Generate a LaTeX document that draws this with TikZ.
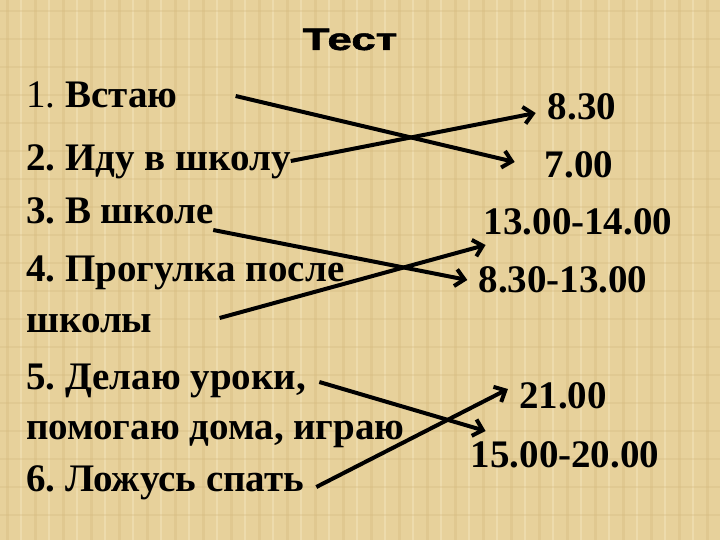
\documentclass[tikz,border=0pt]{standalone}
\usepackage{fontspec}
\setmainfont{Liberation Serif}
\newfontfamily\titlefont[BoldFeatures={FakeBold=1.5}]{Liberation Sans}
\usepackage{graphicx}
\usetikzlibrary{arrows.meta,positioning,calc}
\definecolor{BG}{HTML}{E7D19B}
\definecolor{BGD}{HTML}{D3B87E}
\definecolor{BGL}{HTML}{F4E6BE}
\tikzset{
  entry/.style={anchor=base west, inner sep=0pt, font=\fontsize{39}{47}\selectfont\bfseries\frenchspacing},
  hour/.style={anchor=base, inner sep=0pt, font=\fontsize{39}{47}\selectfont\bfseries},
  link/.style={line width=4pt, -{Straight Barb[length=9pt,width=17pt,line width=4pt]}}
}

\begin{document}
\begin{tikzpicture}[x=1pt,y=-1pt]
        \useasboundingbox (0,0) rectangle (720,540);
        % burlap background
        \fill[BG] (0,0) rectangle (720,540);
        \foreach \x in {6,34,...,720}{
          \fill[BGD,opacity=.35] (\x,0) rectangle ++(3,540);
        }
        \foreach \x in {20,48,...,720}{
          \fill[BGL,opacity=.5] (\x,0) rectangle ++(2,540);
        }
        \foreach \y in {10,38,...,540}{
          \fill[BGD,opacity=.3] (0,\y) rectangle ++(720,2);
        }

        \node[anchor=base, inner sep=0pt,
          font=\titlefont\fontsize{31}{33}\selectfont\bfseries]
          (title) at (350,50) {\scalebox{1.42}[1]{Тест}};

        % left column
        \node[entry] (e1) at (26,108) {{\mdseries 1.} Встаю};
        \node[entry] (e2) at (26,171) {2. Иду в школу};
        \node[entry] (e3) at (26,224) {3. В школе};
        \node[entry] (e4) at (26,281) {4. Прогулка после};
        \node[entry] (e5) at (26,332) {школы};
        \node[entry] (e6) at (26,389) {5. Делаю уроки,};
        \node[entry] (e7) at (26,439) {помогаю дома, играю};
        \node[entry] (e8) at (26,491) {6. Ложусь спать};

        % right column
        \node[hour] (h1) at (582,120) {8.30};
        \node[hour] (h2) at (579,178) {7.00};
        \node[hour] (h3) at (578,235) {13.00-14.00};
        \node[hour] (h4) at (563,292) {8.30-13.00};
        \node[hour] (h5) at (563,408) {21.00};
        \node[hour] (h6) at (565,467) {15.00-20.00};

        \draw[link] ([shift={(58,-12)}]e1.base east) -- ([shift={(-30,-16)}]h2.base west);
        \draw[link] ([shift={(0,-10)}]e2.base east) -- ([shift={(-12,-7)}]h1.base west);
        \draw[link] ([shift={(-1,6)}]e3.base east) -- ([shift={(-11,-12)}]h4.base west);
        \draw[link] ([shift={(67,-14)}]e5.base east) -- ([shift={(2,10)}]h3.base west);
        \draw[link] ([shift={(13,-7)}]e6.base east) -- ([shift={(15,-36)}]h6.base west);
        \draw[link] ([shift={(12,-4)}]e8.base east) -- ([shift={(-11,-19)}]h5.base west);
      \end{tikzpicture}
\end{document}
